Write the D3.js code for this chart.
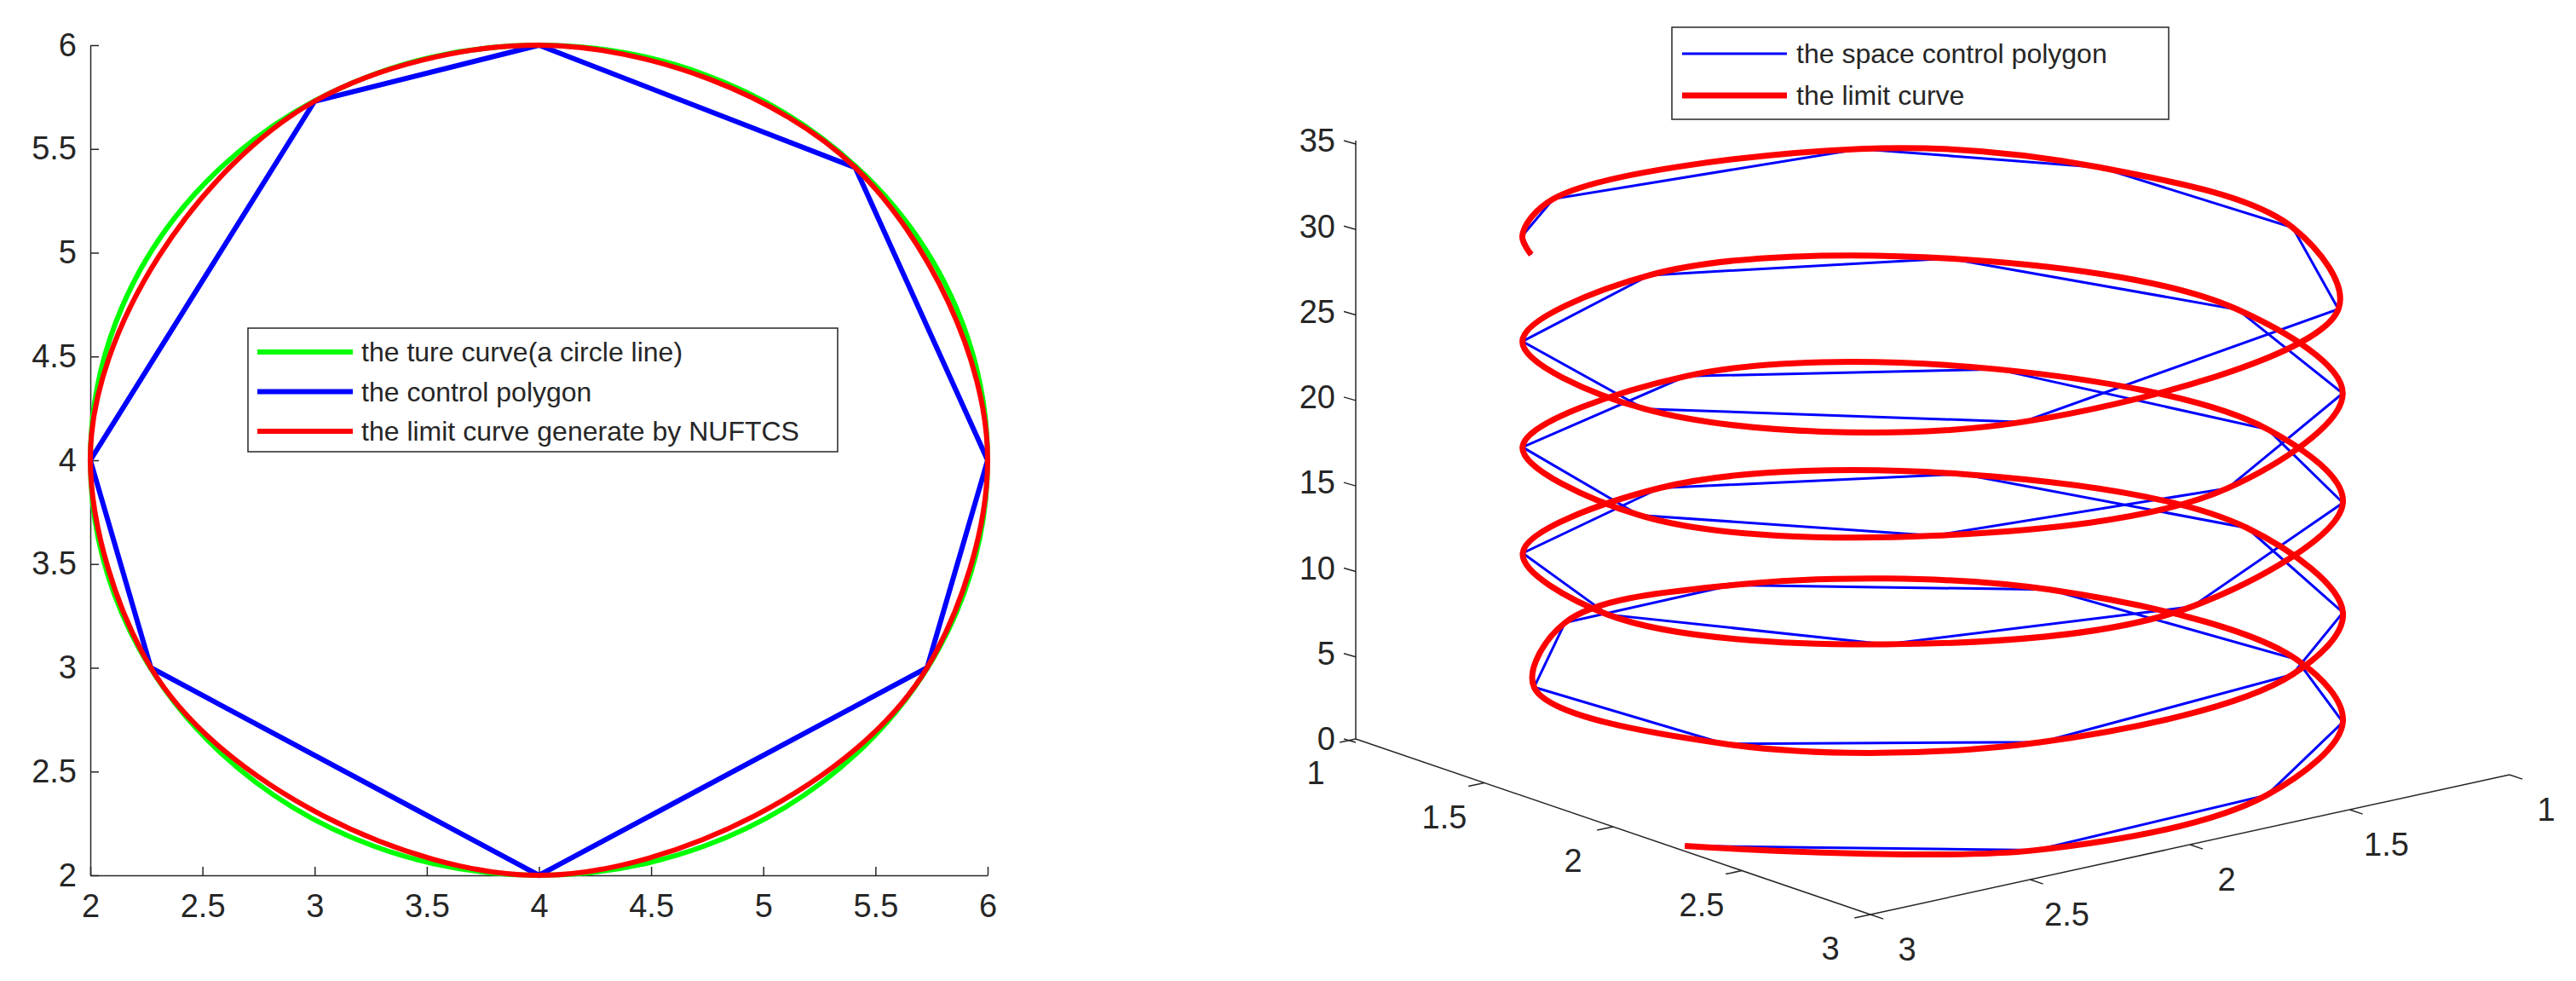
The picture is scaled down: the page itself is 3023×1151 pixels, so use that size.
<!DOCTYPE html>
<html>
<head>
<meta charset="utf-8">
<script src="https://cdn.jsdelivr.net/npm/d3@7"></script>
<style>
  body { margin: 0; background: #fff; }
  text { font-family: "Liberation Sans", Arial, sans-serif; fill: #262626; }
</style>
</head>
<body>
<div id="chart"></div>
<script>
// ---- left plot data ----
const circleCenter = [4, 4];
const circleRadius = 2;
const polyX = [4, 5.41, 6, 5.73, 4, 2.27, 2, 3];
const polyY = [6, 5.41, 4, 3, 2, 3, 4, 5.73];
const ticks2d = [2, 2.5, 3, 3.5, 4, 4.5, 5, 5.5, 6];
const legendLeft = ['the ture curve(a circle line)', 'the control polygon', 'the limit curve generate by NUFTCS'];

// ---- right plot data (cylindrical: angle in degrees, height) ----
const ctrlAngle = [76, 24.4, -15.7, -50, -78.7, -124.6, -170.4, -204.8, -244.9, -290.7, -336.5,
  -382.4, -411, -451.1, -497, -542.8, -588.7, -628.8, -674.6, -720.4, -772, -806.4, -852.2,
  -898.1, -949.6, -995.5, -1041.3, -1087.1, -1132.9, -1173.1, -1218.9, -1264.8, -1310.6,
  -1356.5, -1413.8, -1482.6, -1519.8, -1557, -1591.4, -1648.7, -1671.6, -1683.1];
const ctrlHeight = [0, 0.9, 1.6, 2.2, 2.7, 3.5, 4.3, 4.9, 5.6, 6.4, 7.2, 8.0, 8.5, 9.2, 10.0,
  10.8, 11.6, 12.3, 13.1, 13.9, 14.8, 15.4, 16.2, 17.0, 17.9, 18.7, 19.5, 20.3, 21.1, 21.8,
  22.6, 23.4, 24.2, 25.0, 26.0, 27.2, 27.85, 28.5, 29.1, 30.1, 30.5, 30.7];
const zTicks = [0, 5, 10, 15, 20, 25, 30, 35];
const floorTicks = [1, 1.5, 2, 2.5, 3];
const legendRight = ['the space control polygon', 'the limit curve'];

const width = 3023, height = 1151;
const tickFont = 38;
const svg = d3.select('#chart').append('svg')
  .attr('width', width).attr('height', height);

// ================= left plot =================
const x = d3.scaleLinear().domain([2, 6]).range([106, 1159]);
const y = d3.scaleLinear().domain([2, 6]).range([1027, 53]);

const left = svg.append('g');

left.append('g')
  .attr('transform', `translate(0, ${y(2)})`)
  .call(d3.axisBottom(x).tickValues(ticks2d).tickSizeInner(-10).tickSizeOuter(0).tickPadding(22)
    .tickFormat(d3.format('')))
  .call(g => g.selectAll('text').attr('font-size', tickFont))
  .call(g => g.selectAll('line,path').attr('stroke', '#262626').attr('stroke-width', 1.5));

left.append('g')
  .attr('transform', `translate(${x(2)}, 0)`)
  .call(d3.axisLeft(y).tickValues(ticks2d).tickSizeInner(-10).tickSizeOuter(0).tickPadding(16)
    .tickFormat(d3.format('')))
  .call(g => g.selectAll('text').attr('font-size', tickFont))
  .call(g => g.selectAll('line,path').attr('stroke', '#262626').attr('stroke-width', 1.5));

left.append('ellipse')
  .attr('cx', x(circleCenter[0])).attr('cy', y(circleCenter[1]))
  .attr('rx', x(circleCenter[0] + circleRadius) - x(circleCenter[0]))
  .attr('ry', y(circleCenter[1]) - y(circleCenter[1] + circleRadius))
  .attr('fill', 'none').attr('stroke', '#00ff00').attr('stroke-width', 6);

const polyPts = polyX.map((d, i) => [x(d), y(polyY[i])]);
left.append('path')
  .attr('d', d3.line().curve(d3.curveLinearClosed)(polyPts))
  .attr('fill', 'none').attr('stroke', '#0000ff').attr('stroke-width', 6);
left.append('path')
  .attr('d', d3.line().curve(d3.curveCatmullRomClosed.alpha(1))(polyPts))
  .attr('fill', 'none').attr('stroke', '#ff0000').attr('stroke-width', 6);

// legend
const lg = left.append('g');
lg.append('rect').attr('x', 291).attr('y', 385).attr('width', 692).attr('height', 145)
  .attr('fill', '#fff').attr('stroke', '#262626').attr('stroke-width', 1.5);
const leftColors = ['#00ff00', '#0000ff', '#ff0000'];
legendLeft.forEach((t, i) => {
  const yy = 413 + i * 46.5;
  lg.append('line').attr('x1', 302).attr('x2', 414).attr('y1', yy).attr('y2', yy)
    .attr('stroke', leftColors[i]).attr('stroke-width', 6);
  lg.append('text').attr('x', 424).attr('y', yy).attr('dy', '0.35em')
    .attr('font-size', 32).text(t);
});

// ================= right plot (3D projection) =================
const uX = d3.scaleLinear().domain([1, 3]).range([1591, 2195]);
const uY = d3.scaleLinear().domain([1, 3]).range([867, 1073]);
const vX = d3.scaleLinear().domain([1, 3]).range([2945, 2195]);
const vY = d3.scaleLinear().domain([1, 3]).range([909, 1073]);
const zS = d3.scaleLinear().domain([0, 35]).range([0, -702]);
const proj = (u, v, z) => [uX(u) + vX(v) - 2195, uY(u) + vY(v) - 1073 + zS(z)];

const right = svg.append('g');
const axisCol = '#262626';

// floor axes
right.append('line')
  .attr('x1', proj(1, 3, 0)[0]).attr('y1', proj(1, 3, 0)[1])
  .attr('x2', proj(3, 3, 0)[0]).attr('y2', proj(3, 3, 0)[1])
  .attr('stroke', axisCol).attr('stroke-width', 1.5);
right.append('line')
  .attr('x1', proj(3, 1, 0)[0]).attr('y1', proj(3, 1, 0)[1])
  .attr('x2', proj(3, 3, 0)[0]).attr('y2', proj(3, 3, 0)[1])
  .attr('stroke', axisCol).attr('stroke-width', 1.5);

floorTicks.forEach(t => {
  const p = proj(t, 3, 0), q = proj(t, 3.05, 0);
  right.append('line').attr('x1', p[0]).attr('y1', p[1]).attr('x2', q[0]).attr('y2', q[1])
    .attr('stroke', axisCol).attr('stroke-width', 1.5);
  right.append('text').attr('x', p[0] - 47).attr('y', p[1] + 40).attr('dy', '0.35em')
    .attr('text-anchor', 'middle').attr('font-size', tickFont).text(t);
  const r = proj(3, t, 0), s = proj(3.05, t, 0);
  right.append('line').attr('x1', r[0]).attr('y1', r[1]).attr('x2', s[0]).attr('y2', s[1])
    .attr('stroke', axisCol).attr('stroke-width', 1.5);
  right.append('text').attr('x', r[0] + 43).attr('y', r[1] + 41).attr('dy', '0.35em')
    .attr('text-anchor', 'middle').attr('font-size', tickFont).text(t);
});

// z axis
const z0 = proj(1, 3, 0), z1 = proj(1, 3, 35);
right.append('line').attr('x1', z0[0]).attr('y1', z0[1]).attr('x2', z1[0]).attr('y2', z1[1])
  .attr('stroke', axisCol).attr('stroke-width', 1.5);
zTicks.forEach(t => {
  const p = proj(1, 3, t);
  right.append('line').attr('x1', p[0]).attr('x2', p[0] - 14).attr('y1', p[1] + 4).attr('y2', p[1])
    .attr('stroke', axisCol).attr('stroke-width', 1.5);
  right.append('text').attr('x', p[0] - 24).attr('y', p[1]).attr('dy', '0.35em')
    .attr('text-anchor', 'end').attr('font-size', tickFont).text(t);
});

const ctrlPts = ctrlAngle.map((a, i) => {
  const r = a * Math.PI / 180;
  return proj(2 + Math.cos(r), 2 + Math.sin(r), ctrlHeight[i]);
});
right.append('path')
  .attr('d', d3.line()(ctrlPts))
  .attr('fill', 'none').attr('stroke', '#0000ff').attr('stroke-width', 3);
right.append('path')
  .attr('d', d3.line().curve(d3.curveCatmullRom.alpha(0.5))(ctrlPts))
  .attr('fill', 'none').attr('stroke', '#ff0000').attr('stroke-width', 7);

// legend
const rg = right.append('g');
rg.append('rect').attr('x', 1962).attr('y', 32).attr('width', 583).attr('height', 108)
  .attr('fill', '#fff').attr('stroke', '#262626').attr('stroke-width', 1.5);
const rightColors = ['#0000ff', '#ff0000'];
const rightWidths = [3, 7];
legendRight.forEach((t, i) => {
  const yy = 63 + i * 49;
  rg.append('line').attr('x1', 1974).attr('x2', 2097).attr('y1', yy).attr('y2', yy)
    .attr('stroke', rightColors[i]).attr('stroke-width', rightWidths[i]);
  rg.append('text').attr('x', 2108).attr('y', yy).attr('dy', '0.35em')
    .attr('font-size', 32).text(t);
});
</script>
</body>
</html>
